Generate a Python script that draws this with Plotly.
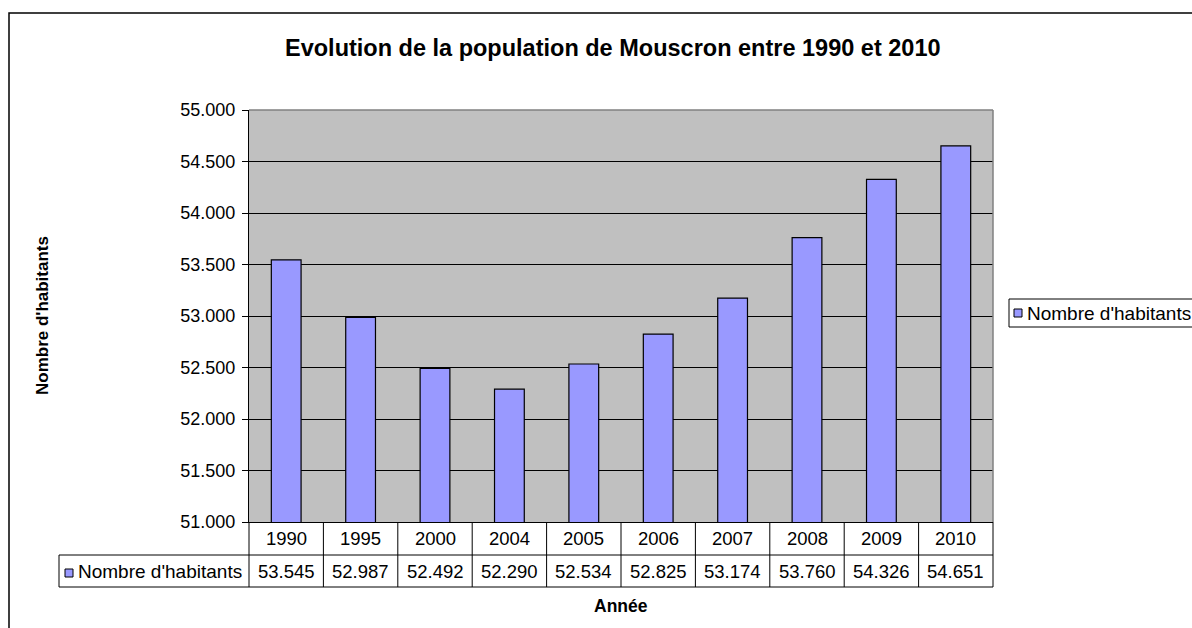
import plotly.graph_objects as go

years = ["1990", "1995", "2000", "2004", "2005", "2006", "2007", "2008", "2009", "2010"]
population = [53545, 52987, 52492, 52290, 52534, 52825, 53174, 53760, 54326, 54651]
series_name = "Nombre d'habitants"
chart_title = "Evolution de la population de Mouscron entre 1990 et 2010"
y_title = "Nombre d'habitants"
x_title = "Année"
y_range = [51000, 55000]
y_step = 500

W, H = 1192, 628
L, R, T, B = 249, 993, 110, 522
PW, PH = R - L, B - T
FONT = "Liberation Sans, Arial, sans-serif"
BAR_COLOR = "#9999FF"


def fx(px):
    return (px - L) / PW


def fy(py):
    return (B - py) / PH


def fmt(v):
    return f"{v:,}".replace(",", ".")


fig = go.Figure()
fig.add_trace(go.Bar(
    x=years, y=population, name=series_name,
    marker=dict(color=BAR_COLOR, line=dict(color="black", width=1.2)),
    showlegend=False,
))

n = len(years)
shapes = []
# outer chart frame
shapes.append(dict(type="rect", xref="paper", yref="paper",
                   x0=fx(9), x1=fx(1400), y0=fy(800), y1=fy(13),
                   line=dict(color="black", width=1.5), layer="below"))
# plot area border (top & right, gray)
shapes.append(dict(type="line", xref="paper", yref="paper", x0=0, x1=1, y0=1, y1=1,
                   line=dict(color="#808080", width=1.5)))
shapes.append(dict(type="line", xref="paper", yref="paper", x0=1, x1=1, y0=0, y1=1,
                   line=dict(color="#808080", width=1.5)))
# data table grid
row_mid, row_bot = 555, 587
for i in range(n + 1):
    shapes.append(dict(type="line", xref="paper", yref="paper",
                       x0=i / n, x1=i / n, y0=fy(B), y1=fy(row_bot),
                       line=dict(color="black", width=1)))
shapes.append(dict(type="line", xref="paper", yref="paper", x0=fx(59), x1=1,
                   y0=fy(row_mid), y1=fy(row_mid), line=dict(color="black", width=1)))
shapes.append(dict(type="line", xref="paper", yref="paper", x0=fx(59), x1=1,
                   y0=fy(row_bot), y1=fy(row_bot), line=dict(color="black", width=1)))
shapes.append(dict(type="line", xref="paper", yref="paper", x0=fx(59), x1=fx(59),
                   y0=fy(row_mid), y1=fy(row_bot), line=dict(color="black", width=1)))
# legend key in table
shapes.append(dict(type="rect", xref="paper", yref="paper",
                   x0=fx(65), x1=fx(73), y0=fy(577), y1=fy(569),
                   fillcolor=BAR_COLOR, line=dict(color="black", width=1)))
# legend box
shapes.append(dict(type="rect", xref="paper", yref="paper",
                   x0=fx(1009), x1=fx(1400), y0=fy(327), y1=fy(299),
                   fillcolor="white", line=dict(color="black", width=1)))
shapes.append(dict(type="rect", xref="paper", yref="paper",
                   x0=fx(1014), x1=fx(1022), y0=fy(317), y1=fy(309),
                   fillcolor=BAR_COLOR, line=dict(color="black", width=1)))

annotations = []
for i, (yr, v) in enumerate(zip(years, population)):
    annotations.append(dict(x=i, xref="x", y=fy(538.5), yref="paper", text=yr,
                            showarrow=False, xanchor="center", yanchor="middle",
                            font=dict(size=18.5, color="black", family=FONT)))
    annotations.append(dict(x=i, xref="x", y=fy(571), yref="paper", text=fmt(v),
                            showarrow=False, xanchor="center", yanchor="middle",
                            font=dict(size=18.5, color="black", family=FONT)))
annotations.append(dict(x=fx(244), xref="paper", y=fy(571), yref="paper", text=series_name,
                        showarrow=False, xanchor="right", yanchor="middle",
                        font=dict(size=19, color="black", family=FONT)))
annotations.append(dict(x=fx(1025), xref="paper", y=fy(313), yref="paper", text=series_name,
                        showarrow=False, xanchor="left", yanchor="middle",
                        font=dict(size=19, color="black", family=FONT)))
annotations.append(dict(x=fx(613), xref="paper", y=fy(48), yref="paper", text=f"<b>{chart_title}</b>",
                        showarrow=False, xanchor="center", yanchor="middle",
                        font=dict(size=23.5, color="black", family=FONT)))
annotations.append(dict(x=fx(42), xref="paper", y=fy(316), yref="paper", text=f"<b>{y_title}</b>",
                        showarrow=False, xanchor="center", yanchor="middle", textangle=-90,
                        font=dict(size=17, color="black", family=FONT)))
annotations.append(dict(x=fx(621), xref="paper", y=fy(606), yref="paper", text=f"<b>{x_title}</b>",
                        showarrow=False, xanchor="center", yanchor="middle",
                        font=dict(size=17.5, color="black", family=FONT)))

fig.update_layout(
    width=W, height=H,
    margin=dict(l=L, r=W - R, t=T, b=H - B, pad=0),
    paper_bgcolor="white", plot_bgcolor="#C0C0C0",
    separators=",.",
    bargap=0.6,
    font=dict(family=FONT, color="black", size=18),
    shapes=shapes, annotations=annotations,
    showlegend=False,
    xaxis=dict(type="category", showticklabels=False, ticks="", showgrid=False,
               showline=True, linecolor="black", linewidth=1, zeroline=False,
               range=[-0.5, n - 0.5]),
    yaxis=dict(range=y_range, dtick=y_step, tick0=y_range[0], tickformat=",d",
               showgrid=True, gridcolor="black", gridwidth=1,
               ticks="outside", ticklen=6, tickcolor="black", tickwidth=1,
               showline=True, linecolor="black", linewidth=1, zeroline=False,
               tickfont=dict(size=18, color="black", family=FONT),
               ticklabelstandoff=3),
)

fig.write_html("out.html", config={"displayModeBar": False},
               post_script="document.body.style.margin='0';document.body.style.overflow='hidden';")
